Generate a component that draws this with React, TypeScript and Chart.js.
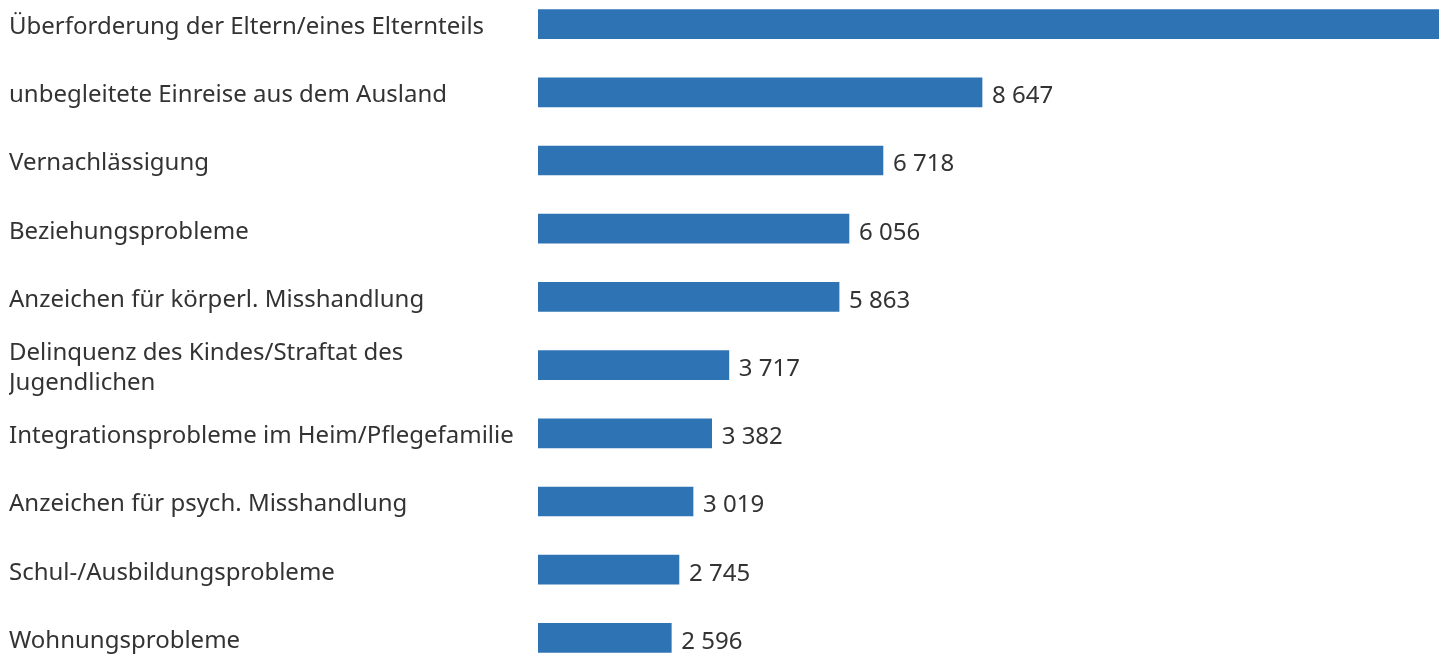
import React, { useEffect, useRef } from "react";
import { Chart, registerables } from "chart.js";

Chart.register(...registerables);

const categories: (string | string[])[] = [
  "Überforderung der Eltern/eines Elternteils",
  "unbegleitete Einreise aus dem Ausland",
  "Vernachlässigung",
  "Beziehungsprobleme",
  "Anzeichen für körperl. Misshandlung",
  ["Delinquenz des Kindes/Straftat des", "Jugendlichen"],
  "Integrationsprobleme im Heim/Pflegefamilie",
  "Anzeichen für psych. Misshandlung",
  "Schul-/Ausbildungsprobleme",
  "Wohnungsprobleme",
];

const values: number[] = [19300, 8647, 6718, 6056, 5863, 3717, 3382, 3019, 2745, 2596];

const BAR_COLOR = "#2e74b5";
const TEXT_COLOR = "#333333";
const FONT_FAMILY = "'Noto Sans', 'Open Sans', sans-serif";
const FONT_SIZE = 24;

const fmt = (v: number) => v.toLocaleString("en-US").replace(/,/g, " ");

const valueLabels = {
  id: "valueLabels",
  afterDatasetsDraw(chart: any) {
    const ctx = chart.ctx;
    const meta = chart.getDatasetMeta(0);
    ctx.save();
    ctx.font = `${FONT_SIZE}px ${FONT_FAMILY}`;
    ctx.fillStyle = TEXT_COLOR;
    ctx.textAlign = "left";
    ctx.textBaseline = "middle";
    meta.data.forEach((bar: any, i: number) => {
      ctx.fillText(fmt(values[i]), bar.x + 10, bar.y + 4);
    });
    ctx.restore();
  },
};

export default function App() {
  const ref = useRef<HTMLCanvasElement | null>(null);

  useEffect(() => {
    if (!ref.current) return;
    const chart = new Chart(ref.current, {
      type: "bar",
      data: {
        labels: categories,
        datasets: [
          {
            data: values,
            backgroundColor: BAR_COLOR,
            borderWidth: 0,
            barThickness: 29,
          },
        ],
      },
      options: {
        indexAxis: "y",
        animation: false,
        responsive: true,
        maintainAspectRatio: false,
        layout: { padding: { left: 9, right: 0, top: 0, bottom: 0 } },
        plugins: {
          legend: { display: false },
          tooltip: { enabled: false },
        },
        scales: {
          x: {
            display: false,
            min: 0,
            max: 17546,
          },
          y: {
            grid: { display: false, drawTicks: false },
            border: { display: false },
            ticks: {
              crossAlign: "far",
              padding: 0,
              labelOffset: 3,
              color: TEXT_COLOR,
              font: { size: FONT_SIZE, family: FONT_FAMILY, lineHeight: 1.25 },
            },
            afterFit(scale: any) {
              scale.width = 529;
            },
          },
        },
      },
      plugins: [valueLabels],
    });
    return () => chart.destroy();
  }, []);

  return (
    <div
      style={{
        position: "fixed",
        left: 0,
        top: 0,
        width: 1439,
        height: 654,
        overflow: "hidden",
        background: "#fff",
      }}
    >
      <div style={{ position: "absolute", left: 0, top: -25, width: 1439, height: 712 }}>
        <canvas ref={ref} />
      </div>
    </div>
  );
}
